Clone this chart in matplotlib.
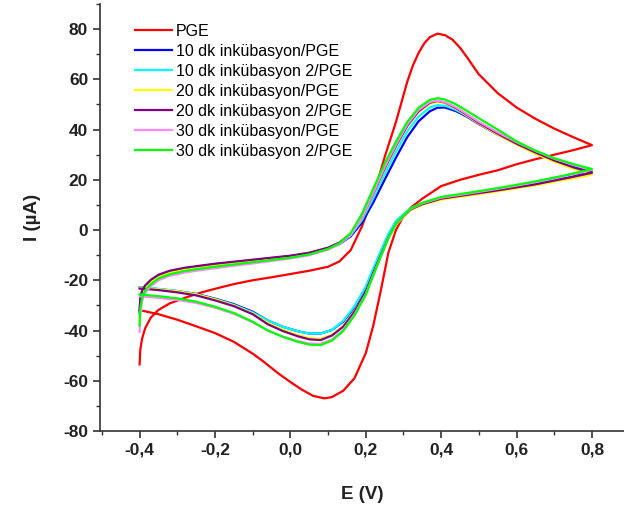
import matplotlib
matplotlib.use('Agg')
import matplotlib.pyplot as plt
from matplotlib.ticker import MultipleLocator, FuncFormatter

plt.rcParams['font.family'] = ['Liberation Sans', 'DejaVu Sans']

# potential grids (V)
e_fwd = [-0.400, -0.398, -0.393, -0.385, -0.370, -0.350, -0.320, -0.280, -0.240, -0.200,
         -0.150, -0.100, -0.050, 0.000, 0.050, 0.100, 0.130, 0.160, 0.190, 0.220,
         0.250, 0.280, 0.310, 0.340, 0.370, 0.390, 0.410, 0.440, 0.470, 0.500,
         0.550, 0.600, 0.650, 0.700, 0.750, 0.800]
e_fwd_pge = [-0.400, -0.398, -0.393, -0.385, -0.370, -0.350, -0.320, -0.280, -0.240, -0.200,
             -0.150, -0.100, -0.050, 0.000, 0.050, 0.100, 0.130, 0.160, 0.190, 0.220,
             0.250, 0.280, 0.310, 0.325, 0.340, 0.355, 0.370, 0.390, 0.410, 0.430,
             0.450, 0.470, 0.485, 0.500, 0.550, 0.600, 0.650, 0.700, 0.750, 0.800]
e_rev_pge = [0.80, 0.75, 0.70, 0.65, 0.60, 0.55, 0.50, 0.45, 0.40, 0.35, 0.32, 0.30, 0.28,
             0.26, 0.24, 0.22, 0.20, 0.17, 0.14, 0.11, 0.09, 0.06, 0.03, 0.00, -0.03,
             -0.07, -0.10, -0.15, -0.20, -0.25, -0.30, -0.35, -0.39]
e_rev = [0.80, 0.75, 0.70, 0.65, 0.60, 0.55, 0.50, 0.45, 0.40, 0.35, 0.32, 0.30, 0.28,
         0.26, 0.24, 0.22, 0.20, 0.17, 0.14, 0.11, 0.08, 0.05, 0.02, -0.02, -0.06,
         -0.10, -0.15, -0.20, -0.25, -0.30, -0.35, -0.38, -0.40]

# currents (uA)
pge_fwd = [-53.5, -47.5, -43.0, -39.0, -34.8, -31.8, -29.2, -27.0, -25.0, -23.4,
           -21.5, -20.0, -18.8, -17.5, -16.2, -14.6, -12.5, -8.0, 1.5, 13.5,
           29.0, 43.0, 59.0, 65.5, 70.5, 74.3, 76.8, 78.2, 77.6, 75.8,
           72.6, 68.5, 65.2, 62.0, 54.5, 48.8, 44.3, 40.4, 37.0, 33.8]
pge_rev = [33.8, 31.8, 30.0, 28.2, 26.2, 23.8, 22.0, 20.0, 17.5, 12.5, 9.0, 5.5, 0.0,
           -9.0, -24.0, -38.0, -49.0, -59.0, -64.0, -66.5, -67.0, -66.0, -63.5, -60.5, -57.3,
           -52.5, -49.2, -44.5, -41.0, -38.3, -35.7, -33.5, -32.2]

inc10_fwd = [-33.0, -27.5, -24.3, -22.3, -20.1, -18.1, -16.5, -15.3, -14.4, -13.6,
             -12.8, -12.0, -11.2, -10.4, -9.3, -7.4, -5.6, -2.5, 3.0, 11.0,
             20.0, 28.8, 37.0, 43.3, 47.3, 48.7, 48.8, 47.3, 45.0, 42.2,
             38.0, 34.2, 30.8, 27.8, 25.2, 23.0]
inc10_rev = [23.0, 21.4, 19.9, 18.4, 17.1, 15.9, 14.8, 13.7, 12.6, 10.5, 8.6, 6.0, 3.2,
             -2.0, -8.8, -15.8, -23.0, -30.8, -36.5, -39.8, -41.2, -41.2, -40.3, -38.5, -36.0,
             -32.5, -29.5, -27.3, -25.4, -24.3, -23.5, -23.1, -22.9]

inc10b_fwd = [-34.0, -28.0, -24.6, -22.5, -20.2, -18.2, -16.6, -15.4, -14.5, -13.7,
              -12.9, -12.1, -11.3, -10.5, -9.4, -7.4, -5.4, -2.0, 4.0, 12.8,
              22.3, 31.2, 39.3, 45.2, 48.8, 49.7, 49.5, 47.8, 45.3, 42.6,
              38.5, 34.7, 31.3, 28.3, 25.9, 24.0]
inc10b_rev = [24.0, 22.2, 20.6, 19.0, 17.6, 16.3, 15.1, 13.9, 12.8, 10.7, 8.8, 6.3, 3.6,
              -1.5, -8.2, -15.2, -22.4, -30.3, -36.2, -39.8, -41.2, -41.2, -40.3, -38.5, -36.0,
              -32.8, -29.8, -27.5, -25.6, -24.3, -23.4, -23.0, -22.8]

inc20_fwd = [-36.0, -29.5, -25.8, -23.3, -20.8, -18.7, -17.0, -15.8, -14.9, -14.1,
             -13.2, -12.4, -11.5, -10.6, -9.4, -7.3, -5.2, -1.7, 4.8, 14.2,
             24.2, 33.3, 41.3, 47.0, 50.3, 51.0, 50.5, 48.3, 45.4, 42.4,
             38.0, 34.0, 30.4, 27.2, 24.4, 22.0]
inc20_rev = [22.0, 20.6, 19.2, 17.8, 16.6, 15.4, 14.3, 13.2, 12.1, 10.0, 8.0, 5.2, 2.2,
             -3.3, -10.3, -17.3, -24.5, -32.3, -38.2, -41.7, -43.3, -43.0, -41.8, -39.7, -37.0,
             -33.2, -30.0, -27.6, -25.6, -24.4, -23.6, -23.2, -23.0]

inc20b_fwd = [-32.0, -27.0, -24.0, -22.0, -19.8, -17.8, -16.2, -15.0, -14.2, -13.4,
              -12.6, -11.8, -11.0, -10.2, -9.0, -7.0, -5.0, -1.5, 5.0, 14.5,
              24.5, 33.5, 41.5, 47.3, 50.7, 51.4, 50.8, 48.5, 45.7, 42.7,
              38.4, 34.4, 30.9, 27.7, 25.0, 22.8]
inc20b_rev = [22.8, 21.2, 19.7, 18.2, 17.0, 15.8, 14.7, 13.6, 12.5, 10.3, 8.3, 5.5, 2.5,
              -3.0, -10.0, -17.0, -24.5, -32.5, -38.5, -42.0, -43.8, -43.5, -42.3, -40.2, -37.5,
              -33.5, -30.3, -28.0, -26.0, -24.8, -23.9, -23.5, -23.3]

inc30_fwd = [-40.5, -33.0, -28.0, -25.0, -22.3, -20.0, -18.2, -16.9, -16.0, -15.2,
             -14.2, -13.3, -12.3, -11.3, -10.0, -7.8, -5.6, -2.0, 5.0, 14.8,
             25.0, 34.0, 42.0, 47.8, 51.0, 51.5, 50.9, 48.8, 46.0, 43.1,
             38.9, 35.0, 31.5, 28.4, 26.0, 24.0]
inc30_rev = [24.0, 22.2, 20.6, 19.1, 17.7, 16.4, 15.2, 14.0, 12.9, 10.6, 8.5, 5.6, 2.4,
             -3.3, -10.5, -17.8, -25.5, -33.6, -39.8, -43.6, -45.3, -45.2, -44.2, -42.4, -40.0,
             -36.7, -33.3, -30.9, -29.0, -27.8, -27.0, -26.6, -26.4]

inc30b_fwd = [-38.0, -31.0, -26.8, -24.0, -21.5, -19.3, -17.6, -16.3, -15.4, -14.6,
              -13.7, -12.8, -11.9, -11.0, -9.7, -7.5, -5.3, -1.2, 6.5, 16.5,
              26.5, 35.2, 43.0, 48.7, 51.8, 52.5, 52.0, 50.0, 47.3, 44.5,
              40.0, 35.3, 31.6, 28.6, 26.3, 24.3]
inc30b_rev = [24.3, 22.5, 20.9, 19.4, 18.0, 16.7, 15.5, 14.3, 13.2, 10.8, 8.7, 5.8, 2.5,
              -3.2, -10.5, -18.0, -25.8, -34.0, -40.2, -44.0, -45.8, -45.6, -44.5, -42.5, -40.0,
              -36.5, -33.0, -30.5, -28.5, -27.2, -26.3, -25.9, -25.6]

labels = ['PGE', '10 dk inkübasyon/PGE', '10 dk inkübasyon 2/PGE', '20 dk inkübasyon/PGE',
          '20 dk inkübasyon 2/PGE', '30 dk inkübasyon/PGE', '30 dk inkübasyon 2/PGE']
colors = ['#ff0000', '#0000ff', '#00ffff', '#ffff00', '#800080', '#ff88ff', '#00ff00']

curves = [(e_fwd_pge, pge_fwd, e_rev_pge, pge_rev),
          (e_fwd, inc10_fwd, e_rev, inc10_rev),
          (e_fwd, inc10b_fwd, e_rev, inc10b_rev),
          (e_fwd, inc20_fwd, e_rev, inc20_rev),
          (e_fwd, inc20b_fwd, e_rev, inc20b_rev),
          (e_fwd, inc30_fwd, e_rev, inc30_rev),
          (e_fwd, inc30b_fwd, e_rev, inc30b_rev)]

fig = plt.figure(figsize=(6.24, 5.08), dpi=100)
ax = fig.add_axes([100/624, 77/508, 524/624, 427/508])

for (ef, i_f, er, i_r), lab, col in zip(curves, labels, colors):
    ax.plot(list(ef) + list(er), list(i_f) + list(i_r), color=col, lw=1.6, label=lab)

ax.set_xlim(-0.505, 0.885)
ax.set_ylim(-80, 90)
ax.xaxis.set_major_locator(MultipleLocator(0.2))
ax.xaxis.set_minor_locator(MultipleLocator(0.1))
ax.yaxis.set_major_locator(MultipleLocator(20))
ax.yaxis.set_minor_locator(MultipleLocator(10))
ax.xaxis.set_major_formatter(FuncFormatter(lambda v, p: ('%.1f' % v).replace('.', ',').replace('-0,0', '0,0')))
ax.yaxis.set_major_formatter(FuncFormatter(lambda v, p: '%d' % round(v)))

for s in ['top', 'right']:
    ax.spines[s].set_visible(False)
for s in ['left', 'bottom']:
    ax.spines[s].set_color('#333333')
    ax.spines[s].set_linewidth(1.2)
ax.tick_params(which='major', direction='out', length=5, width=1.2, color='#333333',
               labelsize=12.5)
ax.tick_params(which='minor', direction='out', length=3, width=1.0, color='#333333')
for t in ax.get_xticklabels() + ax.get_yticklabels():
    t.set_fontweight('bold')
    t.set_color('#222222')

ax.set_xlabel('E (V)', fontsize=13.5, fontweight='bold', color='#222222', labelpad=20)
ax.set_ylabel('I (µA)', fontsize=13.5, fontweight='bold', color='#222222', labelpad=16)

ax.legend(loc='upper left', bbox_to_anchor=(0.067, 0.953), frameon=False, fontsize=11.5,
          handlelength=2.3, handletextpad=0.25, labelspacing=0.31, borderpad=0,
          borderaxespad=0)

fig.savefig('out.png', dpi=100)
